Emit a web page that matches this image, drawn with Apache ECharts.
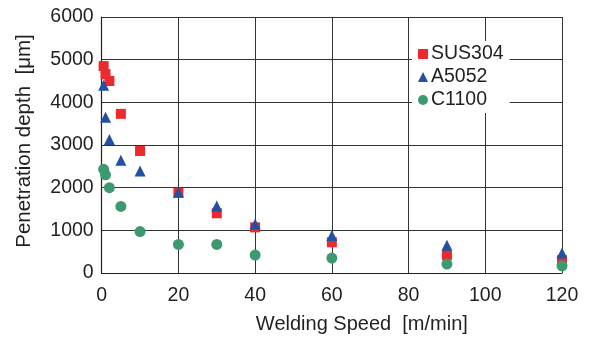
<!DOCTYPE html>
<html><head><meta charset="utf-8">
<script src="https://cdn.jsdelivr.net/npm/echarts@6/dist/echarts.min.js"></script>
<style>html,body{margin:0;padding:0;background:#fff}#c{width:593px;height:340px}</style>
</head><body><div id="c"></div>
<script>
const speeds = [0.5, 1, 2, 5, 10, 20, 30, 40, 60, 90, 120];
const sus304 = [4850, 4660, 4500, 3730, 2860, 1880, 1400, 1070, 720, 420, 300];
const a5052 = [4400, 3650, 3130, 2640, 2390, 1890, 1570, 1150, 880, 650, 470];
const c1100 = [2430, 2300, 2000, 1560, 970, 670, 670, 420, 350, 210, 170];
const seriesNames = ['SUS304', 'A5052', 'C1100'];
const xTicks = [0, 20, 40, 60, 80, 100, 120];
const yTicks = [0, 1000, 2000, 3000, 4000, 5000, 6000];

const font = 'Liberation Sans, Arial, Helvetica, sans-serif';
const fs = 19.5;
const pair = arr => speeds.map((s, i) => [s, arr[i]]);
const chart = echarts.init(document.getElementById('c'));
chart.setOption({
  animation: false,
  backgroundColor: '#fff',
  grid: { left: 101.7, right: 31, top: 17, bottom: 67 },
  xAxis: {
    type: 'value', min: xTicks[0], max: xTicks[xTicks.length - 1], interval: 20,
    name: 'Welding Speed  [m/min]', nameLocation: 'middle', nameGap: 41,
    nameTextStyle: { fontFamily: font, fontSize: 20, color: '#231f20', padding: [0, 0, 0, 60] },
    axisLine: { show: true, lineStyle: { color: '#231f20', width: 1.2 } },
    axisTick: { show: false },
    axisLabel: { fontFamily: font, fontSize: fs, color: '#231f20', margin: 13, formatter: v => String(v) },
    splitLine: { show: true, lineStyle: { color: '#333', width: 1 } }
  },
  yAxis: {
    type: 'value', min: yTicks[0], max: yTicks[yTicks.length - 1], interval: 1000,
    name: 'Penetration depth  [μm]', nameLocation: 'middle', nameGap: 67,
    nameTextStyle: { fontFamily: font, fontSize: 20.5, color: '#231f20', padding: [0, 0, 0, 8] },
    axisLine: { show: true, lineStyle: { color: '#231f20', width: 1.2 } },
    axisTick: { show: false },
    axisLabel: { fontFamily: font, fontSize: fs, color: '#231f20', margin: 8, formatter: v => String(v) },
    splitLine: { show: true, lineStyle: { color: '#333', width: 1 } }
  },
  legend: {
    orient: 'vertical', left: 412, top: 41,
    backgroundColor: '#fff', padding: [3, 6, 3, 6],
    itemWidth: 10, itemHeight: 10, itemGap: 3,
    textStyle: { fontFamily: font, fontSize: fs, color: '#231f20', padding: [0, 0, 0, -2] },
    data: [
      { name: seriesNames[0], icon: 'rect' },
      { name: seriesNames[1], icon: 'triangle' },
      { name: seriesNames[2], icon: 'circle' }
    ]
  },
  series: [
    { name: seriesNames[0], type: 'scatter', symbol: 'rect', symbolSize: 10,
      itemStyle: { color: '#ec2a2d', opacity: 1 }, data: pair(sus304) },
    { name: seriesNames[1], type: 'scatter', symbol: 'triangle', symbolSize: 11,
      itemStyle: { color: '#2251a3', opacity: 1 }, data: pair(a5052) },
    { name: seriesNames[2], type: 'scatter', symbol: 'circle', symbolSize: 11,
      itemStyle: { color: '#3d9a6e', opacity: 1 }, data: pair(c1100) }
  ]
});
</script></body></html>
